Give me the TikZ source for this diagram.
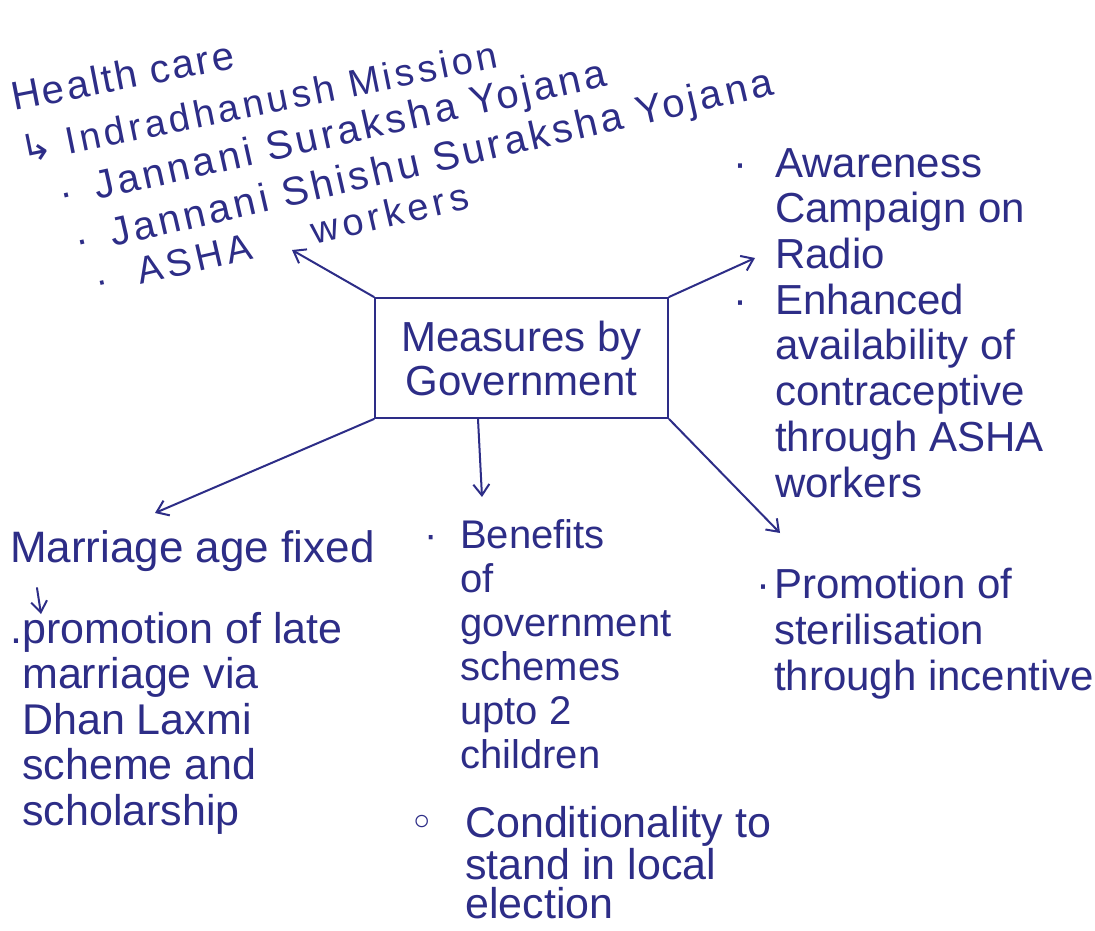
\documentclass[tikz,border=0pt]{standalone}
\usepackage{fontspec}
\setmainfont{Liberation Sans}
\newfontfamily\symfont{DejaVu Sans}
\usetikzlibrary{arrows.meta}
\definecolor{ink}{RGB}{45,45,135}
\newcommand\hs[2]{\fontsize{#1}{#2}\selectfont}
\newcommand\ls[1]{\addfontfeature{LetterSpace=#1}}
\newcommand\bul[1]{\llap{·\hspace{#1}}}

\begin{document}
\begin{tikzpicture}[x=1pt,y=-1pt,
  txt/.style={anchor=base west, inner sep=0pt, text=ink, align=left},
  link/.style={draw=ink, line width=2pt, line cap=round,
    -{Straight Barb[length=11pt,width=16pt,line width=2pt]}},
  govbox/.style={draw=ink, line width=2pt, minimum width=293pt,
    minimum height=120pt, inner sep=0pt, text=ink, align=center}]
\useasboundingbox (0,0) rectangle (1095,931);
\fill[white] (0,0) rectangle (1095,931);

% central box
\node[govbox, font=\hs{42}{44}] (gov) at (521.5,358) {Measures by\\Government};

% health care list, written on a slant
\node[txt, rotate=11, font=\hs{40}{44}\ls{6}] (hc1) at (14,111) {Health care};
\node[txt, rotate=11.5, font=\hs{38}{42}\ls{10}] (hc2) at (23,164) {{\symfont ↳}\ Indradhanush Mission};
\node[txt, rotate=12.6, font=\hs{40}{44}\ls{9}] (hc3) at (97,200) {\bul{22pt}Jannani Suraksha Yojana};
\node[txt, rotate=13, font=\hs{40}{44}\ls{9}] (hc4) at (113,247) {\bul{22pt}Jannani Shishu Suraksha Yojana};
\node[txt, rotate=13, font=\hs{38}{42}\ls{12}] (hc5) at (140,285) {\bul{30pt}ASHA\hspace{62pt}workers};

% awareness and contraception (position = baseline of the last line)
\node[txt, font=\hs{42}{45.7}] (aware) at (775,497)
  {\bul{28pt}Awareness\\Campaign on\\Radio\\\bul{28pt}Enhanced\\availability of\\contraceptive\\through ASHA\\workers};

% marriage age
\node[txt, font=\hs{44}{46}] (mar) at (10,562) {Marriage age fixed};
\node[txt, font=\hs{43}{45.5}] (late) at (22,825)
  {\llap{.}promotion of late\\marriage via\\Dhan Laxmi\\scheme and\\scholarship};

% benefits and conditionality
\node[txt, font=\hs{40}{44}] (ben) at (460,768)
  {\bul{22pt}Benefits\\of\\government\\schemes\\upto 2\\children};
\node[txt, font=\hs{43}{39}] (cond) at (465,918)
  {\llap{{\symfont ◦}\hspace{30pt}}Conditionality to\\stand in local\\election};

% sterilisation
\node[txt, font=\hs{42}{46}] (ster) at (774,690)
  {\llap{·\hspace{4pt}}Promotion of\\sterilisation\\through incentive};

% free ends of the connectors
\coordinate (hcTip) at (292,250);
\coordinate (radTip) at (755,258);
\coordinate (marTip) at (155,513);
\coordinate (benTip) at (482,497);
\coordinate (sterTip) at (780,533);
\coordinate (lateFrom) at (37,588);
\coordinate (lateTip) at (41,614);

\draw[link] (gov.north west) -- (hcTip);
\draw[link] (gov.north east) -- (radTip);
\draw[link] (gov.south west) -- (marTip);
\draw[link] ([xshift=-43.5pt]gov.south) -- (benTip);
\draw[link] (gov.south east) -- (sterTip);
\draw[link] (lateFrom) -- (lateTip);
\end{tikzpicture}
\end{document}
